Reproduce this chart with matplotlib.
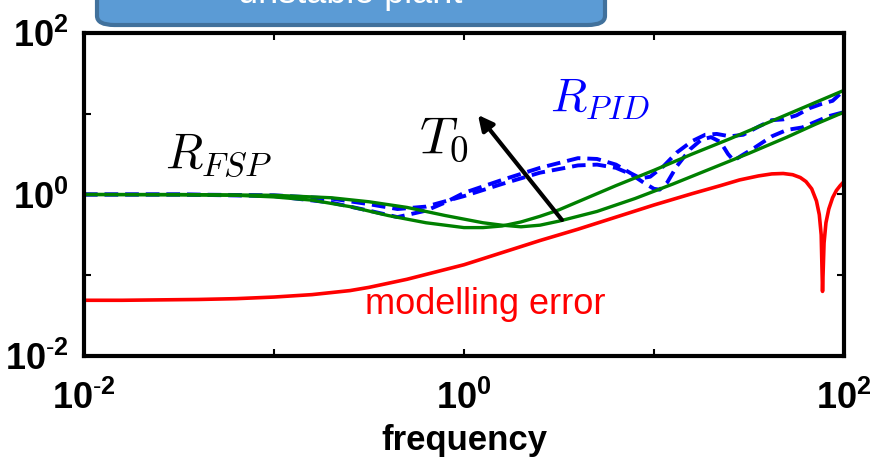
import numpy as np
import matplotlib.pyplot as plt
from matplotlib.patches import FancyBboxPatch

plt.rcParams['mathtext.fontset'] = 'custom'
plt.rcParams['mathtext.rm'] = 'Liberation Sans'
plt.rcParams['mathtext.bf'] = 'Liberation Sans:bold'
plt.rcParams['font.family'] = ['Liberation Sans', 'DejaVu Sans']

# values, as log10(frequency) and log10(magnitude)
red_logw = [-2.0, -1.8, -1.6, -1.4, -1.2, -1.0, -0.9, -0.8, -0.7, -0.6, -0.5, -0.4,
            -0.3, -0.2, -0.1, 0.0, 0.2, 0.4, 0.6, 0.8, 1.0, 1.2, 1.35, 1.45, 1.55,
            1.62, 1.68, 1.73, 1.77, 1.8, 1.83, 1.855, 1.87, 1.88, 1.887, 1.895,
            1.905, 1.92, 1.94, 1.96, 1.98, 2.0]
red_logmag = [-1.31, -1.31, -1.305, -1.30, -1.29, -1.27, -1.255, -1.24, -1.215,
              -1.19, -1.15, -1.10, -1.05, -0.99, -0.93, -0.87, -0.72, -0.57, -0.43,
              -0.28, -0.13, 0.01, 0.11, 0.18, 0.23, 0.255, 0.26, 0.245, 0.21, 0.16,
              0.07, -0.08, -0.25, -0.50, -1.20, -0.60, -0.35, -0.18, -0.04, 0.05,
              0.11, 0.16]

greenA_logw = [-2.0, -1.5, -1.2, -1.0, -0.8, -0.6, -0.4, -0.2, 0.0, 0.1, 0.2, 0.3,
               0.4, 0.5, 0.6, 0.8, 1.0, 1.2, 1.4, 1.6, 1.8, 2.0]
greenA_logmag = [0.0, -0.005, -0.01, -0.03, -0.07, -0.15, -0.26, -0.35, -0.41, -0.41,
                 -0.39, -0.34, -0.27, -0.19, -0.09, 0.11, 0.30, 0.50, 0.69, 0.89,
                 1.09, 1.29]

greenB_logw = [-2.0, -1.5, -1.0, -0.7, -0.5, -0.3, -0.1, 0.1, 0.2, 0.3, 0.4, 0.5,
               0.7, 0.9, 1.1, 1.3, 1.5, 1.7, 1.85, 2.0]
greenB_logmag = [0.0, 0.0, -0.01, -0.04, -0.09, -0.16, -0.26, -0.35, -0.38, -0.40,
                 -0.38, -0.33, -0.21, -0.05, 0.13, 0.32, 0.51, 0.71, 0.87, 1.02]

blue1_logw = [-2.0, -1.5, -1.0, -0.7, -0.5, -0.35, -0.2, 0.0, 0.2, 0.4, 0.6, 0.7,
              0.8, 0.88, 0.95, 1.0, 1.03, 1.07, 1.12, 1.19, 1.25, 1.3, 1.35, 1.39,
              1.42, 1.46, 1.53, 1.62, 1.7, 1.78, 1.85, 1.92, 2.0]
blue1_logmag = [0.0, 0.0, -0.01, -0.05, -0.12, -0.18, -0.15, -0.02, 0.13, 0.27,
                0.36, 0.37, 0.33, 0.25, 0.14, 0.07, 0.06, 0.15, 0.35, 0.56, 0.68,
                0.71, 0.65, 0.50, 0.42, 0.48, 0.58, 0.72, 0.80, 0.83, 0.90, 0.97,
                1.02]

blue2_logw = [-2.0, -1.5, -1.0, -0.7, -0.5, -0.35, -0.2, -0.1, 0.0, 0.2, 0.4, 0.6,
              0.7, 0.8, 0.88, 0.93, 0.98, 1.05, 1.12, 1.2, 1.27, 1.33, 1.4, 1.47,
              1.55, 1.62, 1.68, 1.75, 1.82, 1.88, 1.94, 2.0]
blue2_logmag = [0.0, 0.0, -0.02, -0.10, -0.20, -0.28, -0.20, -0.10, 0.02, 0.18,
                0.33, 0.45, 0.44, 0.37, 0.26, 0.20, 0.22, 0.35, 0.52, 0.66, 0.74,
                0.75, 0.72, 0.74, 0.84, 0.92, 0.93, 0.98, 1.07, 1.12, 1.16, 1.29]

fig = plt.figure(figsize=(8.71, 4.58), dpi=100)
ax = fig.add_axes([0.0964, 0.2227, 0.8726, 0.7053])

for lw_, lm_ in [(blue1_logw, blue1_logmag), (blue2_logw, blue2_logmag)]:
    ax.plot(10 ** np.array(lw_), 10 ** np.array(lm_), color='#0000FF',
            lw=2.8, ls=(0, (3.5, 1.8)))
for lw_, lm_ in [(greenA_logw, greenA_logmag), (greenB_logw, greenB_logmag)]:
    ax.plot(10 ** np.array(lw_), 10 ** np.array(lm_), color='#008000', lw=2.4)
ax.plot(10 ** np.array(red_logw), 10 ** np.array(red_logmag), color='#FF0000', lw=2.6)

ax.set_xscale('log')
ax.set_yscale('log')
ax.set_xlim(1e-2, 1e2)
ax.set_ylim(1e-2, 1e2)

ticks = [1e-2, 1e-1, 1e0, 1e1, 1e2]
labels = [r'$\mathbf{10^{\text{-}2}}$', '', r'$\mathbf{10^{0}}$', '',
          r'$\mathbf{10^{2}}$']
ax.set_xticks(ticks)
ax.set_xticklabels(labels)
ax.set_yticks(ticks)
ax.set_yticklabels(labels)
ax.minorticks_off()
ax.tick_params(direction='in', length=5, width=1.5, top=True, right=True,
               labelsize=26)
ax.tick_params(axis='x', pad=18)
ax.tick_params(axis='y', pad=11)
for s in ax.spines.values():
    s.set_linewidth(3)
ax.set_xlabel('frequency', fontsize=25, fontweight='bold', labelpad=5)

ax.text(0.0267, 3.1, r'$R_{FSP}$', fontsize=35, math_fontfamily='cm',
        ha='left', va='center')
ax.text(0.78, 4.9, r'$T_0$', fontsize=38, math_fontfamily='cm',
        ha='center', va='center')
ax.text(5.2, 15.2, r'$R_{PID}$', fontsize=34, math_fontfamily='cm',
        color='#0000FF', ha='center', va='center')
ax.text(1.29, 0.043, 'modelling error', fontsize=26, color='#FF0000',
        ha='center', va='center')
ax.annotate('', xy=(1.185, 9.66), xytext=(3.28, 0.483),
            arrowprops=dict(arrowstyle='-|>,head_length=0.9,head_width=0.45',
                            color='black', lw=3, shrinkA=0, shrinkB=0))

# blue box cut off at the top
box = FancyBboxPatch((97 / 871, 1 - 25 / 458), 508 / 871, 0.1,
                     boxstyle='round,pad=0,rounding_size=0.02',
                     transform=fig.transFigure, facecolor='#5B9BD5',
                     edgecolor='#41719C', lw=3, clip_on=False)
fig.patches.append(box)
fig.text(350 / 871, 1 - 3 / 458, 'unstable plant', fontsize=26, color='white',
         ha='center', va='baseline')

fig.savefig('out.png', dpi=100)
